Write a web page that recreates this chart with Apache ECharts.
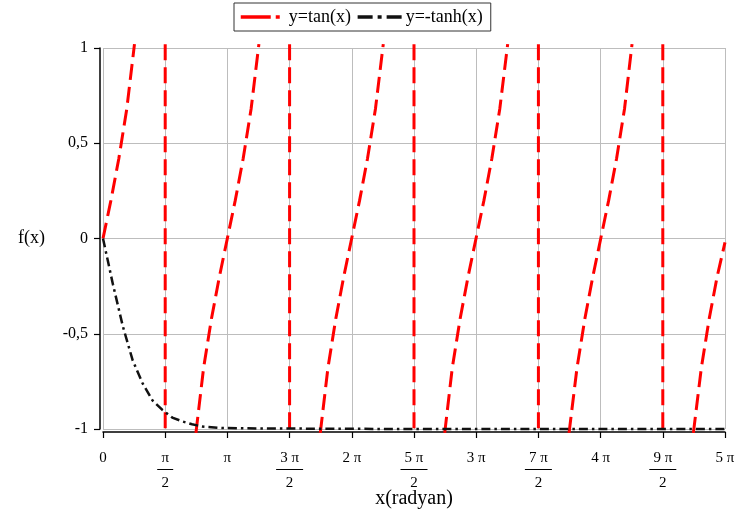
<!DOCTYPE html>
<html>
<head>
<meta charset="utf-8">
<script src="https://cdn.jsdelivr.net/npm/echarts@6/dist/echarts.min.js"></script>
<style>html,body{margin:0;padding:0;background:#fff}#c{width:750px;height:515px}</style>
</head>
<body>
<div id="c"></div>
<script>
// ---- data (x in radians) ----
const xTickLabels = ['0', 'π/2', 'π', '3 π/2', '2 π', '5 π/2', '3 π', '7 π/2', '4 π', '9 π/2', '5 π'];
const yTickLabels = ['-1', '-0,5', '0', '0,5', '1'];
const seriesNames = ['y=tan(x)', 'y=-tanh(x)'];

// tan(x): branches between asymptotes (visible part only)
const tanBranchX = [
  [0, 0.2, 0.4, 0.6, 0.795],
  [2.347, 2.54, 2.74, 2.94, 3.14, 3.34, 3.54, 3.74, 3.937],
  [5.488, 5.68, 5.88, 6.08, 6.28, 6.48, 6.68, 6.88, 7.078],
  [8.63, 8.82, 9.02, 9.22, 9.42, 9.62, 9.82, 10.02, 10.22],
  [11.77, 11.97, 12.17, 12.37, 12.57, 12.77, 12.97, 13.17, 13.36],
  [14.91, 15.11, 15.31, 15.51, 15.708]
];
const tanBranchY = [
  [0, 0.2, 0.42, 0.68, 1.02],
  [-1.02, -0.68, -0.42, -0.2, 0, 0.2, 0.42, 0.68, 1.02],
  [-1.02, -0.68, -0.42, -0.2, 0, 0.2, 0.42, 0.68, 1.02],
  [-1.02, -0.68, -0.42, -0.2, 0, 0.2, 0.42, 0.68, 1.02],
  [-1.02, -0.68, -0.42, -0.2, 0, 0.2, 0.42, 0.68, 1.02],
  [-1.02, -0.68, -0.42, -0.2, -0.02]
];
// vertical jumps drawn at the asymptotes
const asymptoteX = [1.571, 4.712, 7.854, 10.996, 14.137];
const asymptoteTop = 1.02;
const asymptoteBottom = -1.02;

// -tanh(x)
const tanhX = [0, 0.25, 0.5, 0.75, 1, 1.25, 1.5, 1.75, 2, 2.25, 2.5, 3, 3.5, 4, 5, 6, 8, 10, 12, 14, 15.708];
const tanhY = [0, -0.24, -0.46, -0.64, -0.76, -0.85, -0.9, -0.94, -0.96, -0.975, -0.987, -0.995, -0.996, -0.997, -0.998, -0.999, -1, -1, -1, -1, -1];

// ---- build series data ----
const tanData = [];
for (let b = 0; b < tanBranchX.length; b++) {
  if (b > 0) tanData.push([tanBranchX[b][0], '-']);
  tanBranchX[b].forEach((x, i) => tanData.push([x, tanBranchY[b][i]]));
  if (b < asymptoteX.length) {
    tanData.push([asymptoteX[b], '-']);
    tanData.push([asymptoteX[b], asymptoteTop]);
    tanData.push([asymptoteX[b], asymptoteBottom]);
    tanData.push([asymptoteX[b], '-']);
  }
}
const tanhData = tanhX.map((x, i) => [x, tanhY[i]]);

const HALF_PI = Math.PI / 2;
const serif = 'Liberation Serif';

function xFmt(v) {
  const k = Math.round(v / HALF_PI);
  const s = xTickLabels[k];
  if (s === undefined) return '';
  if (s.indexOf('/') >= 0) {
    const parts = s.split('/');
    const bar = parts[0].length > 1 ? 'barw' : 'bar';
    return '{n|' + parts[0] + '}\n{' + bar + '| }\n{d|' + parts[1] + '}';
  }
  return '{n|' + s + '}';
}
function yFmt(v) {
  const k = Math.round((v + 1) / 0.5);
  return yTickLabels[k] !== undefined ? yTickLabels[k] : '';
}

const chart = echarts.init(document.getElementById('c'), null, { renderer: 'canvas' });
chart.setOption({
  animation: false,
  backgroundColor: '#fff',
  textStyle: { fontFamily: serif },
  legend: {
    top: 3,
    left: 234,
    padding: [5, 8, 5, 5],
    borderColor: '#333',
    borderWidth: 1,
    itemWidth: 44,
    itemHeight: 12,
    itemGap: 5,
    itemStyle: { color: 'rgba(0,0,0,0)', borderWidth: 0, opacity: 0 },
    textStyle: { fontFamily: serif, fontSize: 18, color: '#000', padding: [0, 0, 0, -1] },
    data: [
      { name: seriesNames[0], lineStyle: { type: [30, 5, 4, 5], width: 3.5, color: '#ff0000' } },
      { name: seriesNames[1], lineStyle: { type: [15, 5, 4, 5], width: 3.5, color: '#111' } }
    ]
  },
  grid: { left: 103, right: 25, top: 48, bottom: 86, containLabel: false, outerBoundsMode: 'none' },
  xAxis: {
    type: 'value',
    min: 0,
    max: 5 * Math.PI,
    interval: HALF_PI,
    offset: 3,
    name: 'x(radyan)',
    nameLocation: 'middle',
    nameGap: 57,
    nameMoveOverlap: false,
    nameTextStyle: { fontFamily: serif, fontSize: 20, color: '#000' },
    axisLine: { show: true, onZero: false, lineStyle: { color: '#000', width: 1.5 } },
    axisTick: { show: true, length: 6, lineStyle: { color: '#000', width: 1.2 } },
    axisLabel: {
      color: '#000',
      margin: 20,
      fontFamily: serif,
      fontSize: 15,
      formatter: xFmt,
      showMaxLabel: true,
      showMinLabel: true,
      rich: {
        n: { fontFamily: serif, fontSize: 15, lineHeight: 13, align: 'center', color: '#000' },
        bar: { width: 16, height: 1, fontSize: 1, lineHeight: 9, backgroundColor: '#000', align: 'center' },
        barw: { width: 27, height: 1, fontSize: 1, lineHeight: 9, backgroundColor: '#000', align: 'center' },
        d: { fontFamily: serif, fontSize: 15, lineHeight: 19, align: 'center', color: '#000' }
      }
    },
    splitLine: { show: true, lineStyle: { color: '#bdbdbd', width: 1 } }
  },
  yAxis: {
    type: 'value',
    min: -1,
    max: 1,
    interval: 0.5,
    offset: 3,
    name: 'f(x)',
    nameLocation: 'middle',
    nameRotate: 0,
    nameGap: 55,
    nameMoveOverlap: false,
    nameTextStyle: { fontFamily: serif, fontSize: 18, color: '#000' },
    axisLine: { show: true, onZero: false, lineStyle: { color: '#000', width: 1.5 } },
    axisTick: { show: true, length: 6, lineStyle: { color: '#000', width: 1.2 } },
    axisLabel: { color: '#000', margin: 12, fontFamily: serif, fontSize: 16, formatter: yFmt },
    splitLine: { show: true, lineStyle: { color: '#bdbdbd', width: 1 } }
  },
  series: [
    {
      name: seriesNames[0],
      type: 'line',
      data: tanData,
      showSymbol: false,
      symbol: 'none',
      connectNulls: false,
      clip: false,
      color: '#ff0000',
      lineStyle: { color: '#ff0000', width: 3, type: [16, 7] },
      z: 3
    },
    {
      name: seriesNames[1],
      type: 'line',
      data: tanhData,
      showSymbol: false,
      symbol: 'none',
      clip: false,
      color: '#000',
      lineStyle: { color: '#111', width: 2.5, type: [9, 4, 2.5, 4] },
      z: 4
    }
  ]
});
</script>
</body>
</html>
